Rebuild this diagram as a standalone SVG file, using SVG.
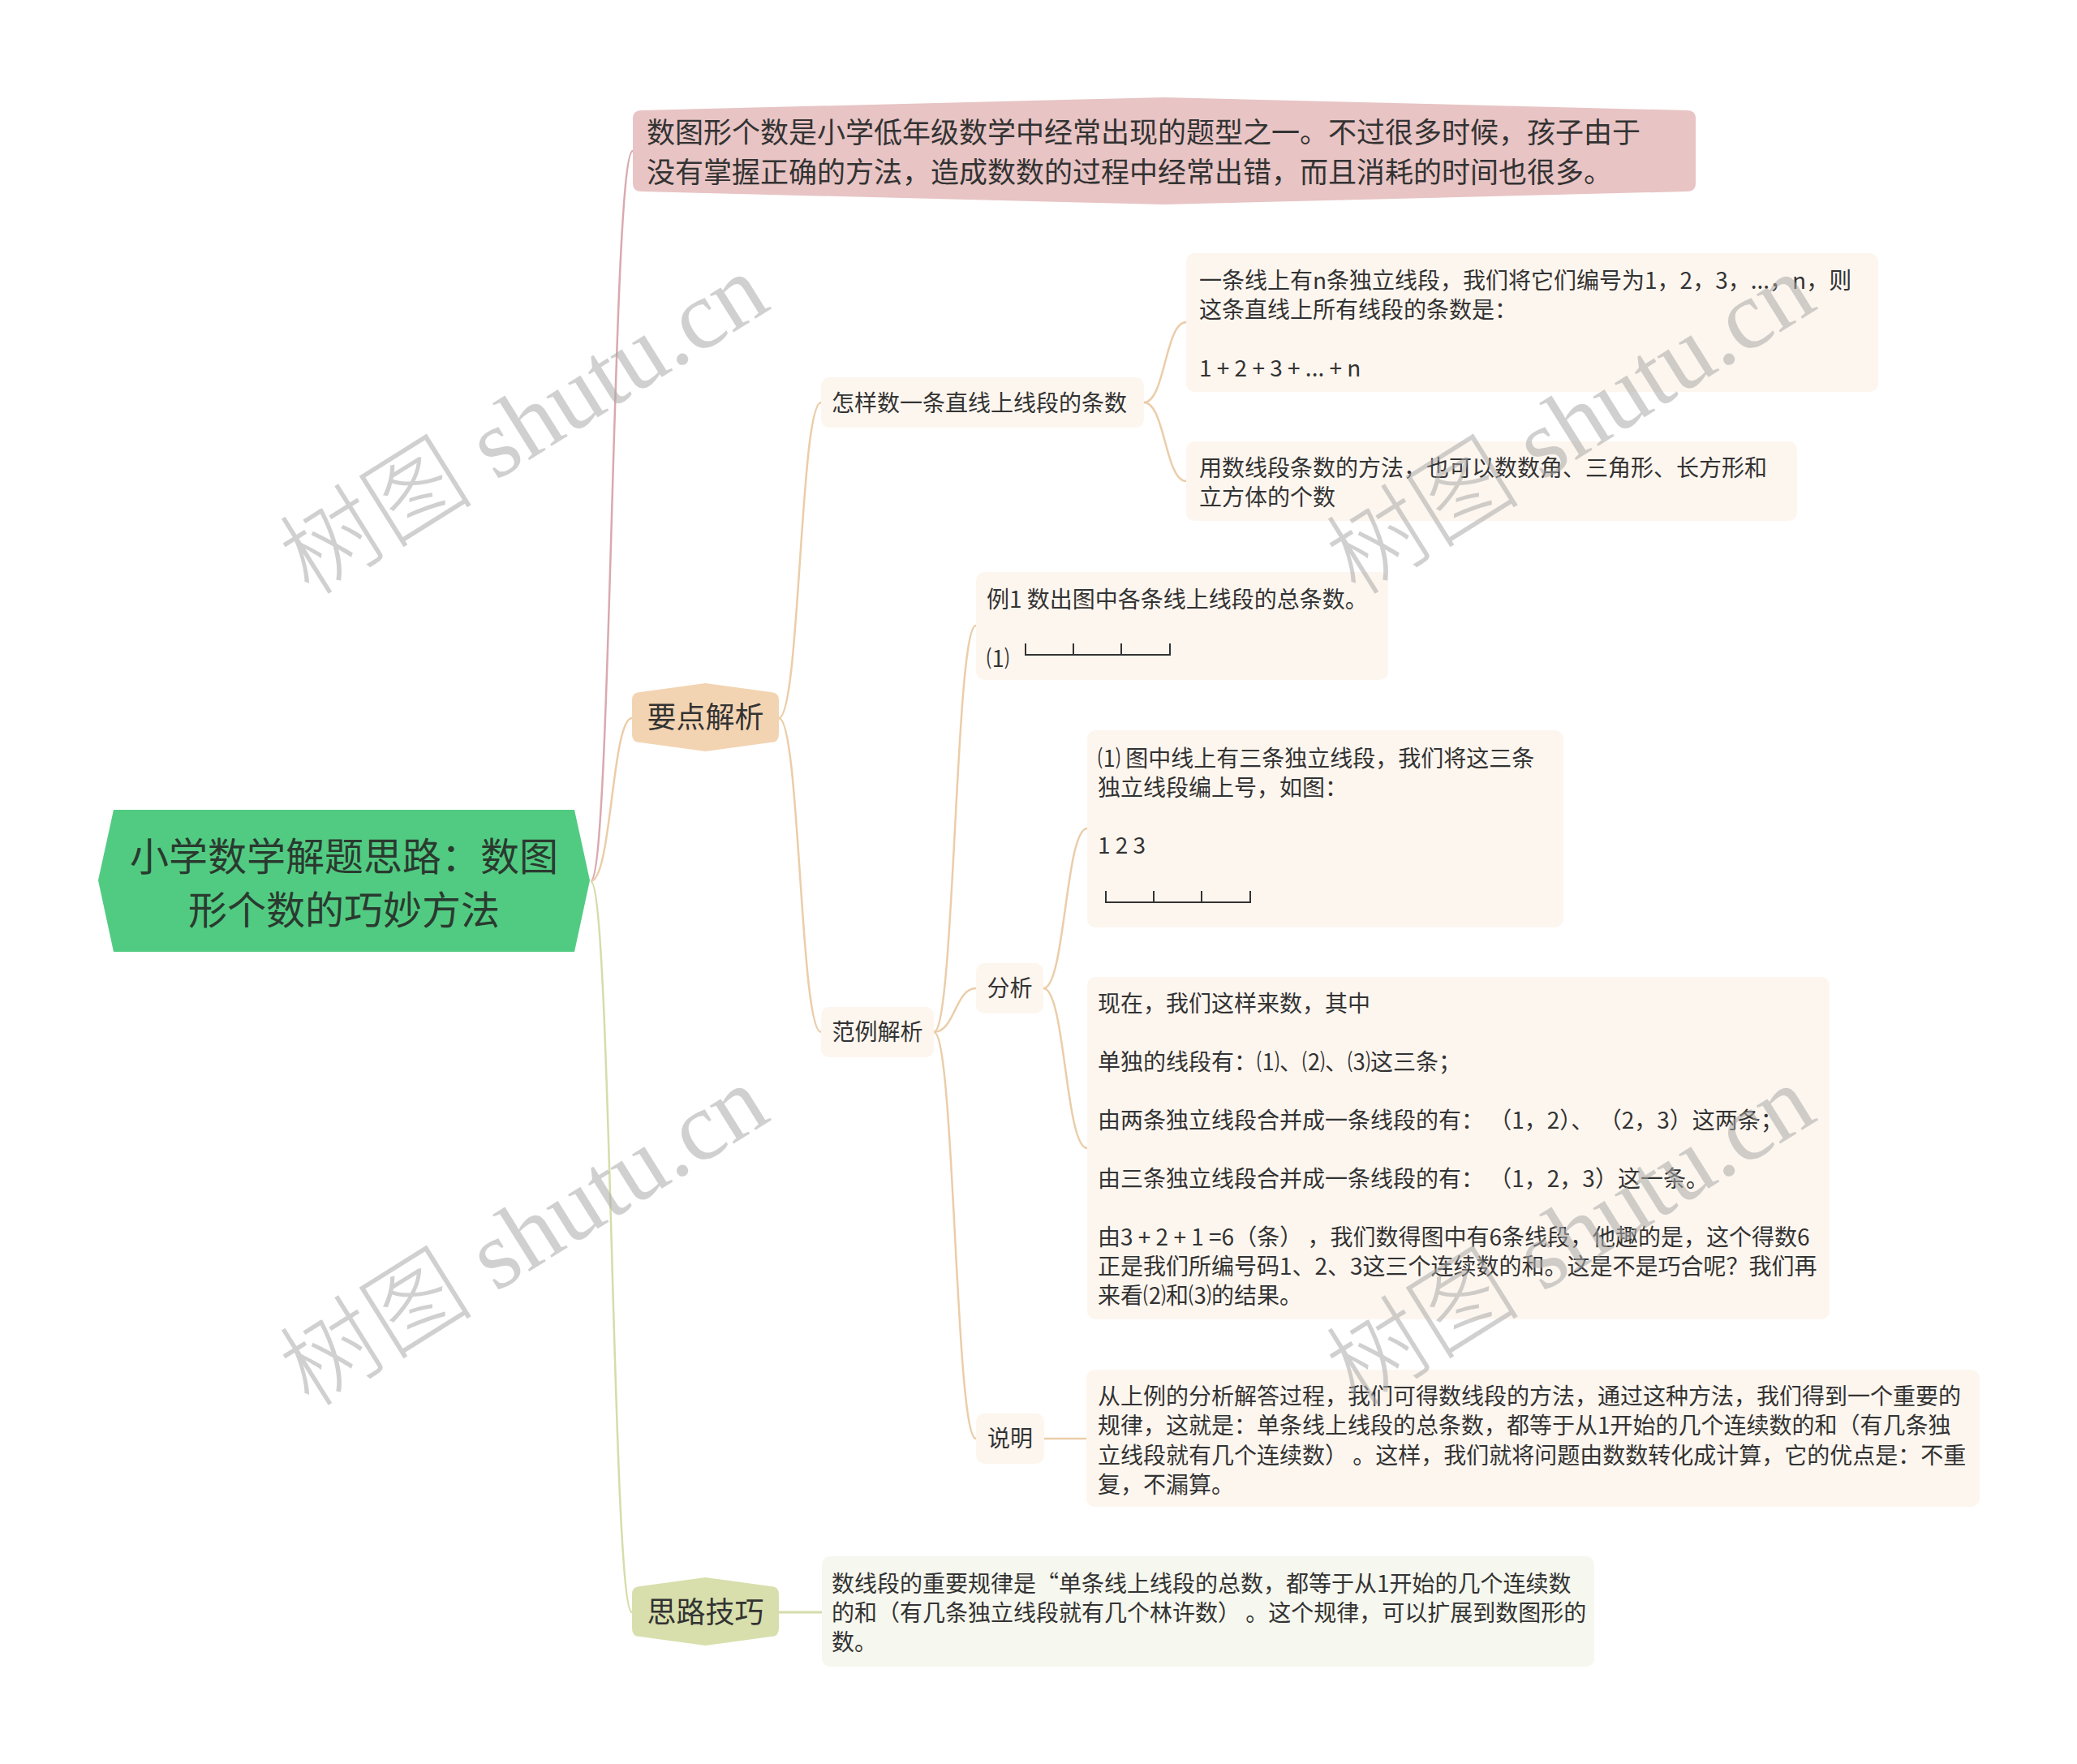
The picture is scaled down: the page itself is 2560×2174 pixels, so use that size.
<svg xmlns="http://www.w3.org/2000/svg" width="2560" height="2174" viewBox="0 0 2560 2174">
<style>
.t{font-family:"Noto Sans CJK SC","Noto Sans",sans-serif;fill:#333;}
.s28{font-size:28px;}
.s35{font-size:35px;}
.s36{font-size:36px;}
.c{text-anchor:middle;}
.cream{fill:#fdf6ef;}
.ln{fill:none;stroke-width:2.5;}
.pk{stroke:#d9a9b0;}
.pc{stroke:#ebcda9;}
.ol{stroke:#d6dcaa;}
.seg{fill:none;stroke:#333;stroke-width:2;}
.wm{font-size:120px;fill:#aaaaaa;opacity:0.55;}
</style>
<rect width="2560" height="2174" fill="#ffffff"/>
<g id="connectors">
<path class="ln pk" d="M728,1086 C754,1086 754,186 780,186"/>
<path class="ln pc" d="M728,1086 C754,1086 754,885 779,885"/>
<path class="ln ol" d="M728,1086 C754,1086 754,1987 779,1987"/>
<path class="ln pc" d="M960,885 C986,885 986,496 1012,496"/>
<path class="ln pc" d="M960,885 C986,885 986,1272 1012,1272"/>
<path class="ln pc" d="M1410,496 C1436,496 1436,397 1462,397"/>
<path class="ln pc" d="M1410,496 C1436,496 1436,593 1462,593"/>
<path class="ln pc" d="M1151,1272 C1177,1272 1177,771 1203,771"/>
<path class="ln pc" d="M1151,1272 C1177,1272 1177,1218 1203,1218"/>
<path class="ln pc" d="M1151,1272 C1177,1272 1177,1773 1203,1773"/>
<path class="ln pc" d="M1286,1218 C1313,1218 1313,1021 1340,1021"/>
<path class="ln pc" d="M1286,1218 C1313,1218 1313,1415 1340,1415"/>
<path class="ln pc" d="M1287,1773 L1339,1773"/>
<path class="ln ol" d="M960,1987 L1013,1987" style="stroke-width:3"/>
</g>
<g id="root">
<polygon points="121,1085 140,998 708,998 727,1085 708,1173 140,1173" fill="#52cb82"/>
<text class="t c" x="424" y="1073" style="font-size:48px;fill:#2a3a2f">小学数学解题思路：数图</text>
<text class="t c" x="424" y="1139" style="font-size:48px;fill:#2a3a2f">形个数的巧妙方法</text>
</g>
<g id="intro">
<path d="M780,146 Q780,136 791,136 L1435,120 L2079,136 Q2090,136 2090,146 L2090,226 Q2090,236 2079,236 L1435,252 L791,236 Q780,236 780,226 Z" fill="#e8c4c4"/>
<text class="t s35" x="797" y="176">数图形个数是小学低年级数学中经常出现的题型之一。不过很多时候，孩子由于</text>
<text class="t s35" x="797" y="225">没有掌握正确的方法，造成数数的过程中经常出错，而且消耗的时间也很多。</text>
</g>
<g id="yaodian">
<path d="M779,863 Q779,853 789,853 L869.5,842 L950,853 Q960,853 960,863 L960,905 Q960,915 950,915 L869.5,926 L789,915 Q779,915 779,905 Z" fill="#f3d4b2"/>
<text class="t s36 c" x="869.5" y="897">要点解析</text>
</g>
<g id="silu">
<path d="M779,1965 Q779,1955 789,1955 L869.5,1944 L950,1955 Q960,1955 960,1965 L960,2007 Q960,2017 950,2017 L869.5,2028 L789,2017 Q779,2017 779,2007 Z" fill="#d8dfac"/>
<text class="t s36 c" x="869.5" y="2000">思路技巧</text>
</g>
<g id="silu-text">
<rect x="1013" y="1918" width="952" height="136" rx="10" fill="#f6f7ee"/>
<text class="t s28" x="1025" y="1962">数线段的重要规律是“单条线上线段的总数，都等于从1开始的几个连续数</text>
<text class="t s28" x="1025" y="1998">的和（有几条独立线段就有几个林许数） 。这个规律，可以扩展到数图形的</text>
<text class="t s28" x="1025" y="2034">数。</text>
</g>
<g id="zenyang">
<rect class="cream" x="1012" y="465" width="398" height="62" rx="10"/>
<text class="t s28" x="1025" y="507">怎样数一条直线上线段的条数</text>
</g>
<g id="boxA">
<rect class="cream" x="1462" y="312" width="853" height="171" rx="10"/>
<text class="t s28" x="1478" y="356">一条线上有n条独立线段，我们将它们编号为1，2，3，...，n，则</text>
<text class="t s28" x="1478" y="392">这条直线上所有线段的条数是：</text>
<text class="t s28" x="1478" y="464">1 + 2 + 3 + ... + n</text>
</g>
<g id="boxB">
<rect class="cream" x="1462" y="544" width="753" height="98" rx="10"/>
<text class="t s28" x="1478" y="587">用数线段条数的方法，也可以数数角、三角形、长方形和</text>
<text class="t s28" x="1478" y="623">立方体的个数</text>
</g>
<g id="fanli">
<rect class="cream" x="1012" y="1241" width="139" height="62" rx="10"/>
<text class="t s28 c" x="1081.5" y="1282">范例解析</text>
</g>
<g id="li1">
<rect class="cream" x="1203" y="705" width="508" height="133" rx="10"/>
<text class="t s28" x="1216" y="749">例1 数出图中各条线上线段的总条数。</text>
<text class="t s28" x="1216" y="822">⑴</text>
<path class="seg" d="M1264,793 L1264,807 L1442,807 L1442,793 M1323,793 L1323,807 M1382,793 L1382,807"/>
</g>
<g id="fenxi">
<rect class="cream" x="1203" y="1187" width="83" height="62" rx="10"/>
<text class="t s28 c" x="1244.5" y="1228">分析</text>
</g>
<g id="boxC">
<rect class="cream" x="1340" y="900" width="587" height="243" rx="10"/>
<text class="t s28" x="1353" y="945">⑴ 图中线上有三条独立线段，我们将这三条</text>
<text class="t s28" x="1353" y="981">独立线段编上号，如图：</text>
<text class="t s28" x="1353" y="1052">1 2 3</text>
<path class="seg" d="M1363,1098 L1363,1112 L1541,1112 L1541,1098 M1422,1098 L1422,1112 M1481,1098 L1481,1112"/>
</g>
<g id="boxD">
<rect class="cream" x="1340" y="1204" width="915" height="422" rx="10"/>
<text class="t s28" x="1353" y="1247">现在，我们这样来数，其中</text>
<text class="t s28" x="1353" y="1319">单独的线段有：⑴、⑵、⑶这三条；</text>
<text class="t s28" x="1353" y="1391">由两条独立线段合并成一条线段的有： （1，2）、 （2，3）这两条；</text>
<text class="t s28" x="1353" y="1463">由三条独立线段合并成一条线段的有： （1，2，3）这一条。</text>
<text class="t s28" x="1353" y="1535">由3 + 2 + 1 =6（条） ，我们数得图中有6条线段，他趣的是，这个得数6</text>
<text class="t s28" x="1353" y="1571">正是我们所编号码1、2、3这三个连续数的和。这是不是巧合呢？我们再</text>
<text class="t s28" x="1353" y="1607">来看⑵和⑶的结果。</text>
</g>
<g id="shuoming">
<rect class="cream" x="1203" y="1742" width="84" height="62" rx="10"/>
<text class="t s28 c" x="1245" y="1783">说明</text>
</g>
<g id="shuoming-text">
<rect class="cream" x="1339" y="1688" width="1101" height="169" rx="10"/>
<text class="t s28" x="1353" y="1731">从上例的分析解答过程，我们可得数线段的方法，通过这种方法，我们得到一个重要的</text>
<text class="t s28" x="1353" y="1767">规律，这就是：单条线上线段的总条数，都等于从1开始的几个连续数的和（有几条独</text>
<text class="t s28" x="1353" y="1804">立线段就有几个连续数） 。这样，我们就将问题由数数转化成计算，它的优点是：不重</text>
<text class="t s28" x="1353" y="1840">复，不漏算。</text>
</g>
<g id="watermarks">
<text class="wm" transform="translate(645,522) rotate(-32)" text-anchor="middle" dy="0.35em"><tspan style="font-family:'Noto Sans CJK SC',sans-serif;font-weight:300">树图</tspan><tspan style="font-family:'Liberation Serif',serif"> shutu.cn</tspan></text>
<text class="wm" transform="translate(1935,522) rotate(-32)" text-anchor="middle" dy="0.35em"><tspan style="font-family:'Noto Sans CJK SC',sans-serif;font-weight:300">树图</tspan><tspan style="font-family:'Liberation Serif',serif"> shutu.cn</tspan></text>
<text class="wm" transform="translate(645,1522) rotate(-32)" text-anchor="middle" dy="0.35em"><tspan style="font-family:'Noto Sans CJK SC',sans-serif;font-weight:300">树图</tspan><tspan style="font-family:'Liberation Serif',serif"> shutu.cn</tspan></text>
<text class="wm" transform="translate(1935,1522) rotate(-32)" text-anchor="middle" dy="0.35em"><tspan style="font-family:'Noto Sans CJK SC',sans-serif;font-weight:300">树图</tspan><tspan style="font-family:'Liberation Serif',serif"> shutu.cn</tspan></text>
</g>
</svg>
